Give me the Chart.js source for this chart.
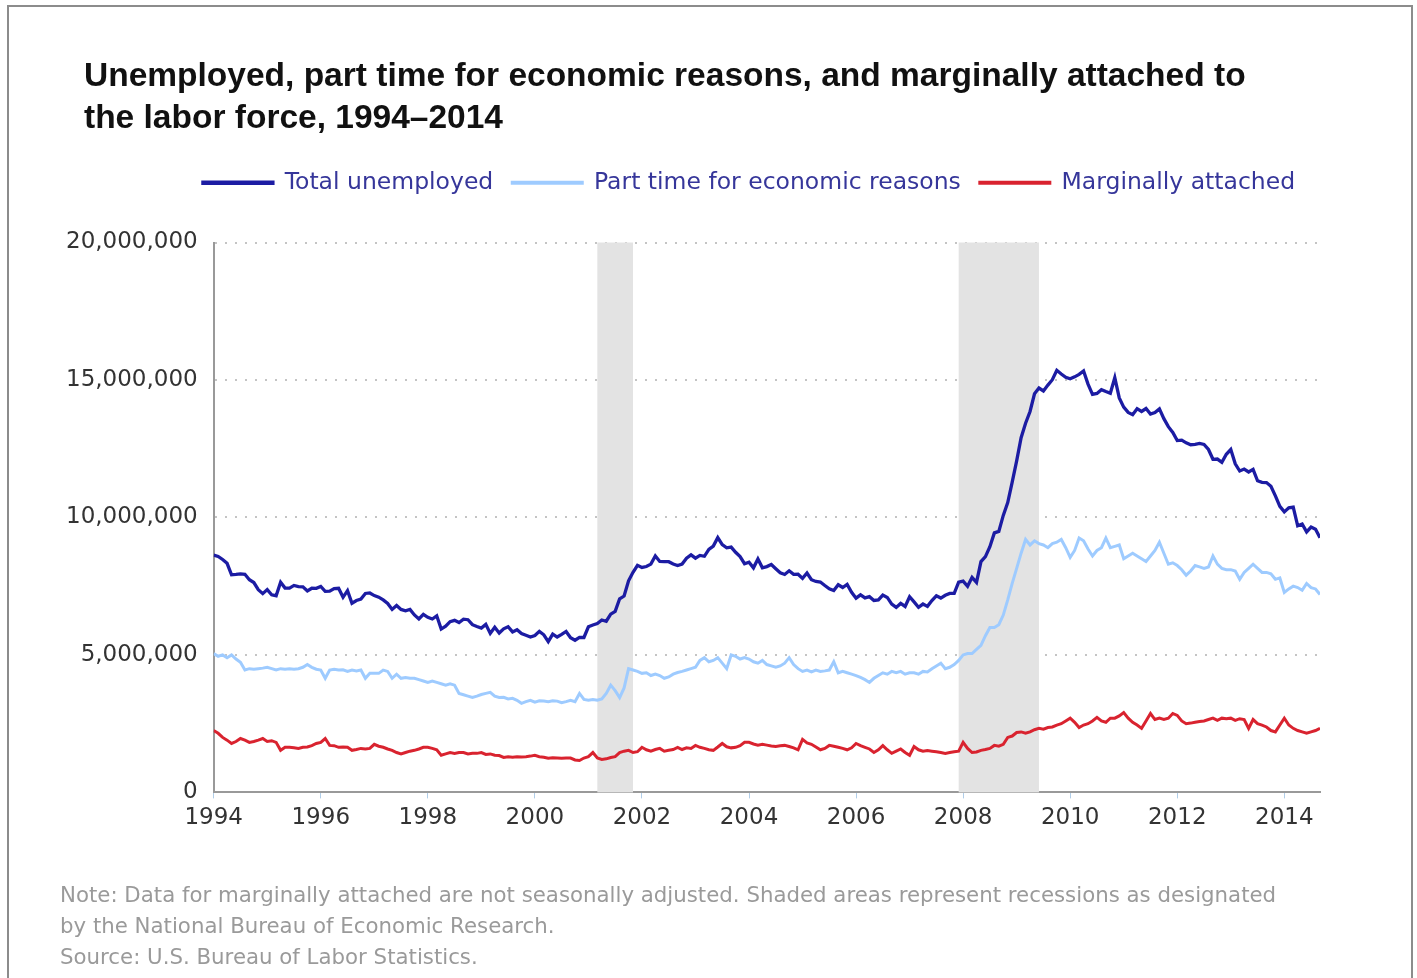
<!DOCTYPE html>
<html>
<head>
<meta charset="utf-8">
<script src="https://cdn.jsdelivr.net/npm/chart.js@4.4.1/dist/chart.umd.min.js"></script>
<style>
  html, body { margin: 0; padding: 0; background: #fff; overflow: hidden; }
  #page { position: relative; width: 1417px; height: 978px; }
  #frame { position: absolute; left: 7px; top: 5px; width: 1406px; height: 1100px; border: 2px solid #8c8c8c; box-sizing: border-box; }
  #title { position: absolute; left: 84px; top: 54px; font: bold 33.5px "Liberation Sans", Arial, sans-serif; line-height: 42px; color: #111; }
  #note { position: absolute; left: 60px; top: 879px; font: 21.3px "DejaVu Sans", sans-serif; line-height: 31px; color: #9a9a9a; }
  #wrap { position: absolute; left: 0; top: 0; width: 1417px; height: 978px; }
</style>
</head>
<body>
<div id="page">
  <div id="frame"></div>
  <div id="wrap"><canvas id="chart"></canvas></div>
  <div id="title">Unemployed, part time for economic reasons, and marginally attached to<br>the labor force, 1994–2014</div>
  <div id="note">Note: Data for marginally attached are not seasonally adjusted. Shaded areas represent recessions as designated<br>by the National Bureau of Economic Research.<br>Source: U.S. Bureau of Labor Statistics.</div>
</div>
<script>
// Monthly values, Jan 1994 - Sep 2014, in thousands of persons
const totalUnemployed = [
  8630, 8583, 8470, 8331, 7915, 7927, 7946, 7933, 7734, 7632, 7375, 7230,
  7375, 7187, 7153, 7645, 7430, 7427, 7527, 7484, 7478, 7328, 7426, 7423,
  7491, 7313, 7318, 7415, 7423, 7095, 7337, 6882, 6979, 7031, 7236, 7253,
  7158, 7102, 7000, 6873, 6655, 6799, 6655, 6608, 6656, 6454, 6308, 6476,
  6368, 6306, 6422, 5941, 6047, 6212, 6259, 6179, 6300, 6280, 6100, 6032,
  5976, 6111, 5783, 6004, 5796, 5951, 6025, 5838, 5915, 5778, 5716, 5653,
  5708, 5858, 5733, 5481, 5758, 5651, 5747, 5853, 5625, 5534, 5639, 5634,
  6023, 6089, 6141, 6271, 6226, 6484, 6583, 7042, 7142, 7694, 8003, 8258,
  8182, 8215, 8304, 8599, 8399, 8393, 8390, 8304, 8251, 8307, 8520, 8640,
  8520, 8618, 8588, 8842, 8957, 9266, 9011, 8896, 8921, 8732, 8576, 8317,
  8370, 8167, 8491, 8170, 8212, 8286, 8136, 7990, 7927, 8061, 7932, 7934,
  7784, 7980, 7737, 7672, 7651, 7524, 7406, 7345, 7553, 7453, 7566, 7279,
  7064, 7184, 7072, 7120, 6980, 7001, 7175, 7091, 6847, 6727, 6872, 6762,
  7116, 6927, 6731, 6850, 6766, 6979, 7149, 7067, 7170, 7237, 7240, 7645,
  7685, 7497, 7822, 7637, 8395, 8575, 8937, 9438, 9494, 10074, 10538, 11286,
  12058, 12898, 13426, 13853, 14499, 14707, 14601, 14814, 15009, 15352, 15219, 15098,
  15046, 15113, 15202, 15325, 14849, 14474, 14512, 14648, 14579, 14516, 15081, 14348,
  14013, 13820, 13737, 13957, 13855, 13962, 13763, 13818, 13948, 13594, 13302, 13093,
  12797, 12813, 12713, 12646, 12660, 12692, 12656, 12471, 12115, 12124, 12005, 12298,
  12471, 11950, 11689, 11760, 11654, 11751, 11335, 11279, 11270, 11136, 10787, 10404,
  10202, 10349, 10375, 9696, 9761, 9474, 9648, 9568, 9262
];

const partTimeEconomic = [
  5050, 4950, 5000, 4900, 5000, 4850, 4730, 4450, 4500, 4480, 4500, 4520,
  4550, 4500, 4450, 4500, 4480, 4500, 4480, 4500, 4550, 4650, 4550, 4480,
  4450, 4150, 4450, 4480, 4450, 4460, 4400, 4450, 4420, 4450, 4150, 4330,
  4330, 4330, 4450, 4400, 4150, 4300, 4150, 4180, 4150, 4150, 4100, 4050,
  4000, 4050, 4000, 3950, 3900, 3950, 3900, 3600, 3550, 3500, 3450, 3500,
  3560, 3600, 3640, 3500, 3450, 3460, 3400, 3420, 3350, 3240, 3300, 3350,
  3280, 3330, 3320, 3300, 3330, 3320, 3260, 3300, 3350, 3300, 3600, 3380,
  3350, 3380, 3350, 3400, 3600, 3900, 3700, 3450, 3800, 4500, 4450, 4400,
  4330, 4350, 4250, 4300, 4250, 4150, 4200, 4300, 4360, 4400, 4450, 4500,
  4550, 4800, 4900, 4750, 4800, 4900, 4700, 4500, 5000, 4950, 4850, 4900,
  4850, 4750, 4700, 4800, 4650, 4600, 4550, 4600, 4700, 4900, 4650, 4500,
  4400, 4450, 4380, 4450, 4400, 4420, 4450, 4750, 4350, 4400, 4350, 4300,
  4250, 4180, 4100, 4000, 4150, 4250, 4350, 4300, 4400, 4350, 4400, 4300,
  4350, 4350, 4300, 4400, 4380, 4500, 4600, 4700, 4500, 4550, 4650, 4800,
  5000, 5050, 5050, 5200, 5350, 5700, 6000, 6000, 6100, 6450, 7000, 7600,
  8150, 8700, 9200, 9000, 9150, 9050, 9000, 8900, 9050, 9100, 9200, 8900,
  8550, 8800, 9250, 9150, 8850, 8600, 8800, 8900, 9250, 8900, 8950, 9000,
  8500, 8600, 8700, 8600, 8500, 8400, 8600, 8800, 9100, 8700, 8300, 8350,
  8250, 8100, 7900, 8050, 8250, 8200, 8150, 8200, 8600, 8300, 8150, 8100,
  8100, 8050, 7750, 8000, 8150, 8300, 8150, 8000, 8000, 7950, 7750, 7800,
  7270, 7400, 7500, 7450, 7350, 7600, 7450, 7400, 7200
];

const marginallyAttached = [
  2250, 2150, 2000, 1900, 1780, 1850, 1960, 1900, 1820, 1850, 1900, 1960,
  1850, 1880, 1820, 1530, 1640, 1640, 1620, 1600, 1640, 1650, 1700, 1780,
  1820, 1960, 1710, 1700, 1640, 1650, 1640, 1530, 1560, 1600, 1580, 1600,
  1750, 1680, 1640, 1580, 1530, 1450, 1400, 1450, 1500, 1530, 1580, 1640,
  1640, 1600, 1550, 1350, 1400, 1450, 1420, 1450, 1450, 1400, 1420, 1420,
  1450, 1380, 1400, 1350, 1340, 1270, 1300, 1280, 1300, 1290, 1300, 1320,
  1350, 1300, 1280, 1240, 1260, 1250, 1240, 1250, 1250, 1180, 1160, 1250,
  1300, 1450, 1250, 1200, 1220, 1270, 1300, 1450, 1500, 1530, 1450, 1480,
  1640, 1550, 1500, 1560, 1600, 1500, 1530, 1560, 1640, 1560, 1620, 1600,
  1710, 1640, 1600, 1550, 1530, 1650, 1780, 1660, 1620, 1640, 1700, 1820,
  1820, 1760, 1720, 1750, 1720, 1690, 1670, 1700, 1710, 1670, 1620, 1550,
  1930, 1800, 1750, 1650, 1550, 1600, 1710, 1680, 1640, 1600, 1550, 1620,
  1780, 1700, 1640, 1580, 1450, 1550, 1700, 1550, 1420, 1500, 1580, 1450,
  1350, 1670, 1550, 1500, 1520, 1500, 1480, 1450, 1420, 1450, 1480, 1500,
  1820, 1600, 1450, 1470, 1530, 1560, 1600, 1710, 1680, 1750, 2000, 2050,
  2180, 2200, 2150, 2200, 2280, 2330, 2300, 2360, 2380, 2450, 2500, 2600,
  2700, 2550, 2360, 2450, 2500, 2600, 2730, 2600, 2550, 2700, 2700, 2780,
  2900, 2700, 2550, 2450, 2330, 2600, 2870, 2650, 2700, 2650, 2700, 2870,
  2800, 2600, 2500, 2520, 2550, 2580, 2600, 2650, 2700, 2620, 2700, 2680,
  2700, 2620, 2680, 2650, 2330, 2650, 2500, 2450, 2380, 2250, 2200, 2450,
  2700, 2450, 2330, 2250, 2200, 2150, 2200, 2250, 2330
];

const yearTicks = [1994, 1996, 1998, 2000, 2002, 2004, 2006, 2008, 2010, 2012, 2014];
const valueTicks = [0, 5000000, 10000000, 15000000, 20000000];
const recessions = [['2001-03', '2001-11'], ['2007-12', '2009-06']];

// month labels 1994-01 .. 2014-09
const months = [];
for (let y = 1994; y <= 2014; y++) {
    for (let m = 1; m <= 12; m++) {
        if (y === 2014 && m > 9) break;
        months.push(y + '-' + String(m).padStart(2, '0'));
    }
}

function monthToX(label) {
    const parts = label.split('-').map(Number);
    return parts[0] + (parts[1] - 1) / 12;
}

function toPoints(values) {
    return months.map((mo, i) => ({ x: monthToX(mo), y: values[i] * 1000 }));
}

// gray bands for recessions
const recessionBands = {
    id: 'recessionBands',
    beforeDatasetsDraw(chart) {
        const { ctx, chartArea, scales } = chart;
        ctx.save();
        ctx.fillStyle = '#e3e3e3';
        recessions.forEach(r => {
            const x1 = scales.x.getPixelForValue(monthToX(r[0]));
            const x2 = scales.x.getPixelForValue(monthToX(r[1]));
            ctx.fillRect(x1, chartArea.top, x2 - x1, chartArea.bottom - chartArea.top);
        });
        ctx.restore();
    }
};

// extra space under the legend, and legend centred a bit to the right
const legendPlace = {
    id: 'legendPlace',
    beforeInit(chart) {
        const fit = chart.legend.fit;
        chart.legend.fit = function () {
            fit.bind(chart.legend)();
            this.height += 38;
        };
    },
    afterLayout(chart) {
        chart.legend.left = 178;
    }
};

const tickFont = { family: 'DejaVu Sans', size: 23 };

new Chart(document.getElementById('chart'), {
    type: 'line',
    data: {
        datasets: [
            { label: 'Total unemployed', data: toPoints(totalUnemployed), borderColor: '#1c1ca3', backgroundColor: '#1c1ca3', borderWidth: 3.3 },
            { label: 'Part time for economic reasons', data: toPoints(partTimeEconomic), borderColor: '#9ecbff', backgroundColor: '#9ecbff', borderWidth: 3 },
            { label: 'Marginally attached', data: toPoints(marginallyAttached), borderColor: '#d9232f', backgroundColor: '#d9232f', borderWidth: 3 }
        ]
    },
    options: {
        responsive: true,
        maintainAspectRatio: false,
        animation: false,
        layout: { padding: { left: 50, right: 97, top: 152, bottom: 140 } },
        elements: { point: { radius: 0 }, line: { tension: 0 } },
        plugins: {
            legend: {
                position: 'top',
                labels: {
                    font: { family: 'DejaVu Sans', size: 23.5 },
                    color: '#36369a',
                    boxWidth: 70,
                    boxHeight: 1,
                    padding: 19
                }
            },
            tooltip: { enabled: false }
        },
        scales: {
            x: {
                type: 'linear',
                min: 1994,
                max: monthToX(months[months.length - 1]),
                afterBuildTicks: scale => { scale.ticks = yearTicks.map(v => ({ value: v })); },
                ticks: { font: tickFont, color: '#333', padding: 6, callback: v => String(v) },
                grid: { drawOnChartArea: false, drawTicks: true, tickLength: 6, color: '#b0cde8' },
                border: { display: true, color: '#999', width: 2 }
            },
            y: {
                min: 0,
                max: 20000000,
                afterBuildTicks: scale => { scale.ticks = valueTicks.map(v => ({ value: v })); },
                ticks: { font: tickFont, color: '#333', padding: 16, callback: v => v.toLocaleString('en-US') },
                grid: { drawTicks: false, color: '#c4c4c4', lineWidth: 2 },
                border: { display: true, color: '#999', width: 2, dash: [2, 8] }
            }
        }
    },
    plugins: [recessionBands, legendPlace]
});
</script>
</body>
</html>
